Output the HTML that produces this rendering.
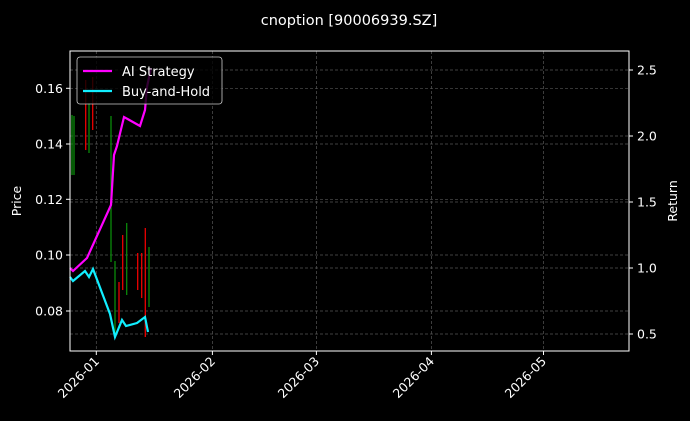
<!DOCTYPE html>
<html><head><style>body{margin:0;background:#000;}svg{display:block;font-family:"DejaVu Sans","Liberation Sans",sans-serif;}</style></head>
<body>
<svg width="690" height="421" viewBox="0 0 690 421" xmlns="http://www.w3.org/2000/svg">
<rect width="690" height="421" fill="#000"/>
<text x="349" y="25" fill="#fff" font-size="14.5" text-anchor="middle">cnoption [90006939.SZ]</text>
<!-- grid -->
<g stroke="#555" stroke-width="0.7" stroke-dasharray="3,2">
<line x1="96.3" y1="51" x2="96.3" y2="351"/><line x1="212.4" y1="51" x2="212.4" y2="351"/>
<line x1="316.4" y1="51" x2="316.4" y2="351"/><line x1="431.4" y1="51" x2="431.4" y2="351"/>
<line x1="543.5" y1="51" x2="543.5" y2="351"/>
<line x1="70" y1="88.3" x2="629" y2="88.3"/><line x1="70" y1="144" x2="629" y2="144"/>
<line x1="70" y1="199.3" x2="629" y2="199.3"/><line x1="70" y1="255" x2="629" y2="255"/>
<line x1="70" y1="311" x2="629" y2="311"/>
<line x1="70" y1="70" x2="629" y2="70"/><line x1="70" y1="136" x2="629" y2="136"/>
<line x1="70" y1="202" x2="629" y2="202"/><line x1="70" y1="268" x2="629" y2="268"/>
<line x1="70" y1="334" x2="629" y2="334"/>
</g>
<!-- candles -->
<g stroke-width="1.3">
<line x1="72" y1="115" x2="72" y2="175" stroke="#0a8a0a"/>
<line x1="74" y1="116" x2="74" y2="175" stroke="#0a8a0a"/>
<line x1="85.7" y1="80" x2="85.7" y2="150" stroke="#e00"/>
<line x1="89" y1="103" x2="89" y2="153" stroke="#0a8a0a"/>
<line x1="92.7" y1="77" x2="92.7" y2="130" stroke="#e00"/>
<line x1="111" y1="116" x2="111" y2="262" stroke="#0a8a0a"/>
<line x1="115" y1="261" x2="115" y2="337" stroke="#0a8a0a"/>
<line x1="119" y1="282" x2="119" y2="323" stroke="#e00"/>
<line x1="122.7" y1="235" x2="122.7" y2="290" stroke="#e00"/>
<line x1="126.7" y1="223" x2="126.7" y2="295" stroke="#0a8a0a"/>
<line x1="137.7" y1="253" x2="137.7" y2="290" stroke="#e00"/>
<line x1="141.7" y1="253" x2="141.7" y2="298" stroke="#e00"/>
<line x1="145.3" y1="228" x2="145.3" y2="337" stroke="#e00"/>
<line x1="149" y1="247" x2="149" y2="307" stroke="#0a8a0a"/>
</g>
<polyline fill="none" stroke="#f0f" stroke-width="2.2" points="70,268 73,271 87,258 111,205 114,155 117,146 124,117 140,126 145,110 147,87 151,68"/>
<polyline fill="none" stroke="#1ef" stroke-width="2.2" points="70,277 73,281 85,271 89,277 93,269 110,314 115,337 122,320 126,326 137,323 145,317 148,332"/>
<!-- legend -->
<rect x="77" y="57" width="145" height="47" rx="3" fill="#000" fill-opacity="0.8" stroke="#ccc" stroke-width="0.8"/>
<line x1="83" y1="71" x2="112" y2="71" stroke="#f0f" stroke-width="2.2"/>
<line x1="83" y1="91" x2="112" y2="91" stroke="#1ef" stroke-width="2.2"/>
<text x="122" y="76" fill="#fff" font-size="13">AI Strategy</text>
<text x="122" y="96" fill="#fff" font-size="13">Buy-and-Hold</text>
<!-- axes -->
<rect x="70" y="51" width="559" height="300" fill="none" stroke="#fff" stroke-width="1"/>
<g stroke="#fff" stroke-width="1">
<line x1="66" y1="88.3" x2="70" y2="88.3"/><line x1="66" y1="144" x2="70" y2="144"/>
<line x1="66" y1="199.3" x2="70" y2="199.3"/><line x1="66" y1="255" x2="70" y2="255"/><line x1="66" y1="311" x2="70" y2="311"/>
<line x1="629" y1="70" x2="633" y2="70"/><line x1="629" y1="136" x2="633" y2="136"/><line x1="629" y1="202" x2="633" y2="202"/>
<line x1="629" y1="268" x2="633" y2="268"/><line x1="629" y1="334" x2="633" y2="334"/>
<line x1="96.3" y1="351" x2="96.3" y2="355"/><line x1="212.4" y1="351" x2="212.4" y2="355"/>
<line x1="316.4" y1="351" x2="316.4" y2="355"/><line x1="431.4" y1="351" x2="431.4" y2="355"/><line x1="543.5" y1="351" x2="543.5" y2="355"/>
</g>
<g fill="#fff" font-size="12.5" text-anchor="end">
<text x="63" y="93">0.16</text><text x="63" y="148.5">0.14</text><text x="63" y="204">0.12</text>
<text x="63" y="259.5">0.10</text><text x="63" y="315.5">0.08</text>
</g>
<g fill="#fff" font-size="12.5">
<text x="637" y="74.5">2.5</text><text x="637" y="140.5">2.0</text><text x="637" y="206.5">1.5</text>
<text x="637" y="272.5">1.0</text><text x="637" y="338.5">0.5</text>
</g>
<g fill="#fff" font-size="12.5" text-anchor="end">
<text transform="translate(100,362) rotate(-45)">2026-01</text>
<text transform="translate(216,362) rotate(-45)">2026-02</text>
<text transform="translate(320,362) rotate(-45)">2026-03</text>
<text transform="translate(435,362) rotate(-45)">2026-04</text>
<text transform="translate(547,362) rotate(-45)">2026-05</text>
</g>
<text transform="translate(21,201) rotate(-90)" fill="#fff" font-size="12.5" text-anchor="middle">Price</text>
<text transform="translate(677,201) rotate(-90)" fill="#fff" font-size="12.5" text-anchor="middle">Return</text>
</svg>
</body></html>
